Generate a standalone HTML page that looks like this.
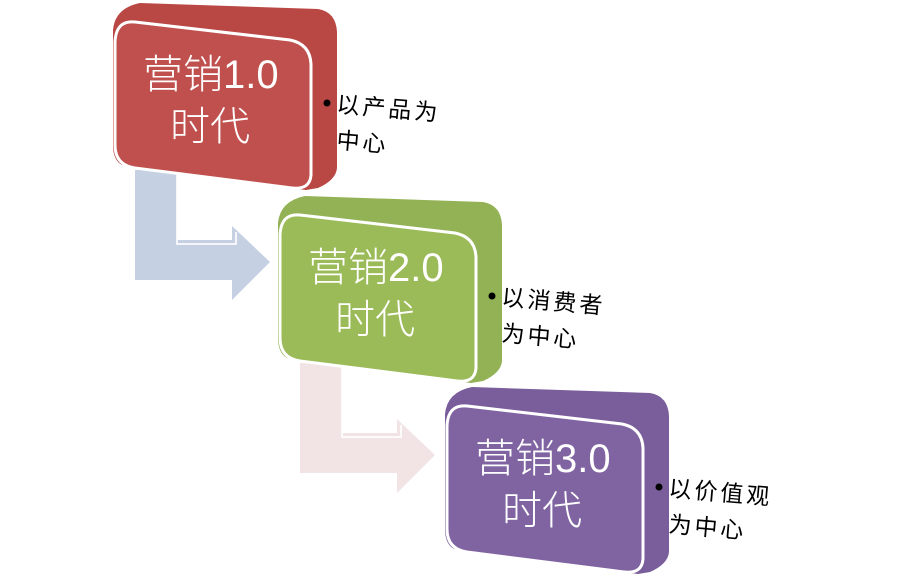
<!DOCTYPE html>
<html><head><meta charset="utf-8"><style>
html,body{margin:0;padding:0;background:#fff;width:897px;height:576px;overflow:hidden}
svg{display:block}
.t{font-family:"Liberation Sans","Noto Sans CJK SC",sans-serif;fill:#fff;font-size:40px;font-weight:300}
.b{font-family:"Liberation Sans","Noto Sans CJK SC",sans-serif;fill:#000;font-size:23px;letter-spacing:3px}
</style></head><body>
<svg width="897" height="576" viewBox="0 0 897 576">
<defs>
<g id="arrow">
<polygon points="135,170 177,170 177,240 232,240 232,226 270,262 232,300 232,280 135,280"/>
<polyline points="177,175 177,244 236,244 236,232" fill="none" stroke="#fff" stroke-width="2" opacity="0.8"/>
</g>
</defs>
<g fill="#c5d0e3"><use href="#arrow"/></g>
<g fill="#f2e4e4" transform="translate(165,193)"><use href="#arrow"/></g>

<g>
<path d="M140,3 L318,9 Q336,12 337,32 L337,168 Q336,180 318,188 L306,190 L122,165 Q113,160 113,145 L113,30 Q115,8 140,3 Z" fill="#b94744"/>
<path d="M135,22 L290,40 Q310,44 311,64 L311,175 Q310,190 292,188 L135,168 Q115,165 115,145 L115,42 Q116,20 135,22 Z" fill="#c0504d" stroke="#fff" stroke-width="3"/>
<text class="t" x="143" y="88">营销1.0</text>
<text class="t" x="170" y="140">时代</text>
<circle cx="327" cy="103" r="3.5" fill="#000"/>
<text class="b" x="336" y="112" transform="rotate(5 336 112)">以产品为</text>
<text class="b" x="336" y="148" transform="rotate(5 336 148)">中心</text>
</g>

<g transform="translate(165,193)">
<path d="M140,3 L318,9 Q336,12 337,32 L337,168 Q336,180 318,188 L306,190 L122,165 Q113,160 113,145 L113,30 Q115,8 140,3 Z" fill="#93b255"/>
<path d="M135,22 L290,40 Q310,44 311,64 L311,175 Q310,190 292,188 L135,168 Q115,165 115,145 L115,42 Q116,20 135,22 Z" fill="#9bbb59" stroke="#fff" stroke-width="3"/>
<text class="t" x="143" y="88">营销2.0</text>
<text class="t" x="170" y="140">时代</text>
<circle cx="327" cy="103" r="3.5" fill="#000"/>
<text class="b" x="336" y="112" transform="rotate(5 336 112)">以消费者</text>
<text class="b" x="336" y="148" transform="rotate(5 336 148)">为中心</text>
</g>

<g transform="translate(332,384)">
<path d="M140,3 L318,9 Q336,12 337,32 L337,168 Q336,180 318,188 L306,190 L122,165 Q113,160 113,145 L113,30 Q115,8 140,3 Z" fill="#7a5e9b"/>
<path d="M135,22 L290,40 Q310,44 311,64 L311,175 Q310,190 292,188 L135,168 Q115,165 115,145 L115,42 Q116,20 135,22 Z" fill="#8064a2" stroke="#fff" stroke-width="3"/>
<text class="t" x="143" y="88">营销3.0</text>
<text class="t" x="170" y="140">时代</text>
<circle cx="327" cy="103" r="3.5" fill="#000"/>
<text class="b" x="336" y="112" transform="rotate(5 336 112)">以价值观</text>
<text class="b" x="336" y="148" transform="rotate(5 336 148)">为中心</text>
</g>
</svg>
</body></html>
